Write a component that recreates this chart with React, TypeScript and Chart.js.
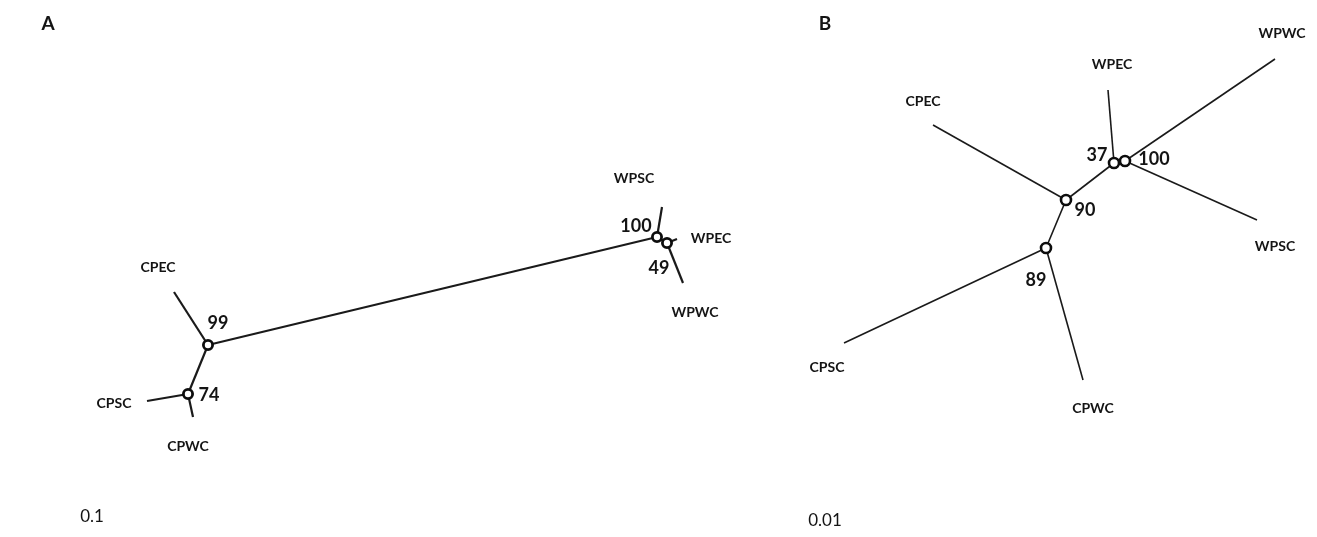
import React, { useEffect, useRef } from "react";
import { Chart, registerables } from "chart.js";

Chart.register(...registerables);

// ---- Panel A (layout units = reference picture units) ----
const A_LEAF_NAMES = ["CPEC", "CPSC", "CPWC", "WPSC", "WPEC", "WPWC"];
const A_LEAF_X = [174, 147, 193, 662, 677, 683];
const A_LEAF_Y = [292, 401, 417, 207, 239, 283];
const A_LEAF_LABEL_X = [158, 114, 188, 634, 711, 695];
const A_LEAF_LABEL_Y = [267, 403, 446, 178, 238, 312];

const A_NODE_NAMES = ["n99", "n74", "n100", "n49"];
const A_NODE_X = [208, 188, 657, 667];
const A_NODE_Y = [345, 394, 237, 243];
const A_SUPPORT = ["99", "74", "100", "49"];
const A_SUPPORT_X = [218, 209, 636, 659];
const A_SUPPORT_Y = [323, 395, 226, 268];

const A_EDGES: [string, string][] = [
  ["CPEC", "n99"],
  ["n99", "n74"],
  ["n74", "CPSC"],
  ["n74", "CPWC"],
  ["n99", "n100"],
  ["n100", "WPSC"],
  ["n100", "n49"],
  ["n49", "WPEC"],
  ["n49", "WPWC"],
];

// ---- Panel B ----
const B_LEAF_NAMES = ["CPEC", "CPSC", "CPWC", "WPEC", "WPWC", "WPSC"];
const B_LEAF_X = [933, 844, 1083, 1108, 1275, 1257];
const B_LEAF_Y = [125, 343, 380, 90, 59, 220];
const B_LEAF_LABEL_X = [923, 827, 1093, 1112, 1282, 1275];
const B_LEAF_LABEL_Y = [101, 367, 408, 64, 33, 246];

const B_NODE_NAMES = ["n90", "n89", "n37", "n100"];
const B_NODE_X = [1066, 1046, 1114, 1125];
const B_NODE_Y = [200, 248, 163, 161];
const B_SUPPORT = ["90", "89", "37", "100"];
const B_SUPPORT_X = [1085, 1036, 1097, 1154];
const B_SUPPORT_Y = [210, 280, 155, 159];

const B_EDGES: [string, string][] = [
  ["CPEC", "n90"],
  ["n90", "n89"],
  ["n89", "CPSC"],
  ["n89", "CPWC"],
  ["n90", "n37"],
  ["n37", "WPEC"],
  ["n37", "n100"],
  ["n100", "WPWC"],
  ["n100", "WPSC"],
];

const PANEL_TITLES = ["A", "B"];
const PANEL_TITLE_X = [48, 825];
const PANEL_TITLE_Y = [24, 24];
const SCALE_LABELS = ["0.1", "0.01"];
const SCALE_LABEL_X = [92, 825];
const SCALE_LABEL_Y = [517, 521];

const W = 1317;
const H = 537;

type Pt = { x: number; y: number };

function lookup(
  leafNames: string[], lx: number[], ly: number[],
  nodeNames: string[], nx: number[], ny: number[]
) {
  const m: Record<string, Pt> = {};
  leafNames.forEach((n, i) => (m[n] = { x: lx[i], y: ly[i] }));
  nodeNames.forEach((n, i) => (m[n] = { x: nx[i], y: ny[i] }));
  return m;
}

function edgeDatasets(edges: [string, string][], m: Record<string, Pt>, width: number) {
  return edges.map(([a, b]) => ({
    type: "scatter" as const,
    data: [m[a], m[b]],
    showLine: true,
    borderColor: "#1a1a1a",
    borderWidth: width,
    pointRadius: 0,
    pointHoverRadius: 0,
    order: 2,
  }));
}

function nodeDataset(nx: number[], ny: number[], r: number, bw: number) {
  return {
    type: "scatter" as const,
    data: nx.map((x, i) => ({ x, y: ny[i] })),
    showLine: false,
    pointRadius: r,
    pointHoverRadius: r,
    pointBorderWidth: bw,
    pointBorderColor: "#0d0d0d",
    pointBackgroundColor: "#ffffff",
    order: 0,
  };
}

const textPlugin = {
  id: "treeText",
  afterDatasetsDraw(chart: any) {
    const ctx = chart.ctx as CanvasRenderingContext2D;
    const xs = chart.scales.x;
    const ys = chart.scales.y;
    const put = (t: string, x: number, y: number, font: string) => {
      ctx.font = font;
      ctx.fillText(t, xs.getPixelForValue(x), ys.getPixelForValue(y));
    };
    ctx.save();
    ctx.fillStyle = "#141414";
    ctx.textAlign = "center";
    ctx.textBaseline = "middle";
    const leafFont = "bold 14px Lato";
    const numFont = "bold 18px Lato";
    A_LEAF_NAMES.forEach((n, i) => put(n, A_LEAF_LABEL_X[i], A_LEAF_LABEL_Y[i], leafFont));
    B_LEAF_NAMES.forEach((n, i) => put(n, B_LEAF_LABEL_X[i], B_LEAF_LABEL_Y[i], leafFont));
    A_SUPPORT.forEach((n, i) => put(n, A_SUPPORT_X[i], A_SUPPORT_Y[i], numFont));
    B_SUPPORT.forEach((n, i) => put(n, B_SUPPORT_X[i], B_SUPPORT_Y[i], numFont));
    PANEL_TITLES.forEach((n, i) => put(n, PANEL_TITLE_X[i], PANEL_TITLE_Y[i], "bold 19px Lato"));
    SCALE_LABELS.forEach((n, i) => put(n, SCALE_LABEL_X[i], SCALE_LABEL_Y[i], "17px Lato"));
    ctx.restore();
  },
};

export default function App() {
  const ref = useRef<HTMLCanvasElement | null>(null);
  useEffect(() => {
    if (!ref.current) return;
    const mA = lookup(A_LEAF_NAMES, A_LEAF_X, A_LEAF_Y, A_NODE_NAMES, A_NODE_X, A_NODE_Y);
    const mB = lookup(B_LEAF_NAMES, B_LEAF_X, B_LEAF_Y, B_NODE_NAMES, B_NODE_X, B_NODE_Y);
    const datasets: any[] = [
      ...edgeDatasets(A_EDGES, mA, 2.2),
      ...edgeDatasets(B_EDGES, mB, 1.6),
      nodeDataset(A_NODE_X, A_NODE_Y, 4.6, 2.8),
      nodeDataset(B_NODE_X, B_NODE_Y, 5, 2.6),
    ];
    const chart = new Chart(ref.current, {
      type: "scatter",
      data: { datasets },
      options: {
        animation: false,
        responsive: false,
        maintainAspectRatio: false,
        layout: { padding: 0, autoPadding: false },
        plugins: { legend: { display: false }, tooltip: { enabled: false } },
        scales: {
          x: { type: "linear", min: 0, max: W, display: false },
          y: { type: "linear", min: 0, max: H, reverse: true, display: false },
        },
      },
      plugins: [textPlugin],
    });
    return () => chart.destroy();
  }, []);
  return (
    <div style={{ position: "absolute", left: 0, top: 0, width: W, height: H, background: "#fff" }}>
      <canvas ref={ref} width={W} height={H} style={{ display: "block", width: W, height: H }} />
    </div>
  );
}
